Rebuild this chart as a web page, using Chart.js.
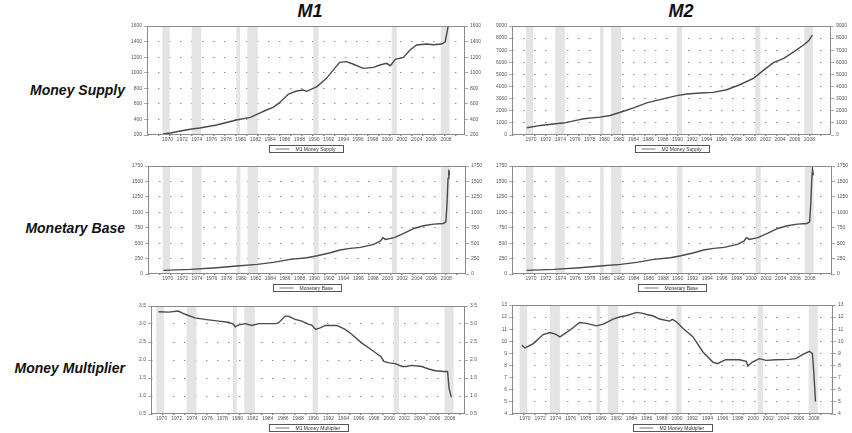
<!DOCTYPE html>
<html>
<head>
<meta charset="utf-8">
<script src="https://cdn.jsdelivr.net/npm/chart.js@4.4.1/dist/chart.umd.min.js"></script>
<style>
  html, body { margin: 0; padding: 0; background: #fff; overflow: hidden; }
  body { width: 852px; height: 433px; position: relative; }
  canvas { position: absolute; }
  .col { position: absolute; top: 1px; transform: translateX(-50%);
         font: italic bold 18px "Liberation Sans Narrow", "Liberation Sans", sans-serif; color: #111; }
  .row { position: absolute; right: 727px; transform: translateY(-50%); white-space: nowrap;
         font: italic bold 14px "Liberation Sans", Arial, sans-serif; color: #111; }
</style>
</head>
<body>
<div class="col" style="left:310px">M1</div>
<div class="col" style="left:681px">M2</div>
<div class="row" style="top:90px">Money Supply</div>
<div class="row" style="top:228px">Monetary Base</div>
<div class="row" style="top:368px">Money Multiplier</div>

<canvas id="m1Supply"></canvas>
<canvas id="m2Supply"></canvas>
<canvas id="m1Base"></canvas>
<canvas id="m2Base"></canvas>
<canvas id="m1Mult"></canvas>
<canvas id="m2Mult"></canvas>

<script>
// x axis labels (every second year) and shaded recessions
const xTickLabels = ["1970", "1972", "1974", "1976", "1978", "1980", "1982", "1984", "1986", "1988",
    "1990", "1992", "1994", "1996", "1998", "2000", "2002", "2004", "2006", "2008"];
const recessions = [[1969.9, 1970.9], [1973.9, 1975.2], [1980.0, 1980.5], [1981.5, 1982.9],
    [1990.5, 1991.2], [2001.2, 2001.9], [2007.9, 2009.1]];

// M1 money supply (billions)
const m1SupplyYears = [1970.0, 1971.0, 1972.0, 1973.7, 1975.0, 1977.3, 1980.0, 1981.9, 1982.8, 1984.1,
    1985.0, 1985.9, 1987.1, 1988.2, 1989.1, 1989.6, 1991.0, 1992.3, 1993.4, 1994.1, 1995.0, 1995.9,
    1997.3, 1998.7, 1999.6, 2000.5, 2001.0, 2001.7, 2002.8, 2003.7, 2004.6, 2006.0, 2006.9, 2008.0,
    2008.5, 2008.9];
const m1SupplyValues = [213, 225, 245, 273, 290, 328, 393, 427, 465, 521, 555, 615, 726, 765, 778, 761,
    821, 928, 1056, 1133, 1142, 1112, 1056, 1069, 1099, 1120, 1090, 1172, 1197, 1291, 1356, 1368, 1360,
    1368, 1398, 1595];
const m1SupplyTicks = [200, 400, 600, 800, 1000, 1200, 1400, 1600];

// M2 money supply (billions)
const m2SupplyYears = [1970.0, 1971.9, 1973.9, 1975.0, 1976.9, 1977.8, 1980.0, 1981.4, 1982.8, 1984.6,
    1986.4, 1988.2, 1990.5, 1991.9, 1993.7, 1995.5, 1997.3, 1999.1, 2001.0, 2002.4, 2003.7, 2005.1,
    2006.5, 2007.8, 2008.5, 2009.0];
const m2SupplyValues = [600, 790, 930, 985, 1230, 1340, 1475, 1610, 1880, 2240, 2650, 2920, 3250, 3385,
    3465, 3520, 3740, 4150, 4700, 5380, 5980, 6330, 6880, 7430, 7780, 8250];
const m2SupplyTicks = [0, 1000, 2000, 3000, 4000, 5000, 6000, 7000, 8000, 9000];

// monetary base (billions), same series in both columns
const baseYears = [1970.0, 1973.7, 1977.3, 1980.0, 1982.8, 1985.0, 1987.3, 1989.6, 1991.0, 1992.8,
    1994.1, 1995.5, 1996.9, 1998.7, 1999.6, 1999.95, 2000.3, 2001.5, 2002.8, 2004.2, 2005.5, 2006.9,
    2008.2, 2008.55, 2008.7, 2008.85, 2008.95, 2009.05];
const baseValues = [59, 75, 102, 129, 156, 188, 237, 264, 296, 345, 388, 415, 431, 479, 533, 587, 560,
    590, 657, 738, 781, 808, 819, 845, 1115, 1550, 1690, 1600];
const baseTicks = [0, 250, 500, 750, 1000, 1250, 1500, 1750];

// M1 money multiplier
const m1MultYears = [1970.2, 1971.5, 1972.8, 1973.7, 1975.0, 1976.3, 1978.1, 1979.4, 1980.1, 1980.3,
    1980.7, 1981.6, 1982.5, 1983.4, 1984.7, 1985.6, 1986.0, 1986.9, 1987.3, 1988.2, 1989.1, 1990.0,
    1990.4, 1990.9, 1991.5, 1992.2, 1993.7, 1994.8, 1995.7, 1997.0, 1997.9, 1998.8, 1999.5, 1999.9,
    2000.6, 2001.4, 2002.3, 2002.8, 2003.6, 2004.9, 2005.8, 2006.7, 2007.8, 2008.3, 2008.5, 2008.8];
const m1MultValues = [3.34, 3.33, 3.36, 3.27, 3.17, 3.13, 3.08, 3.05, 2.99, 2.92, 2.97, 3.01, 2.96, 3.01,
    3.01, 3.01, 3.03, 3.22, 3.22, 3.13, 3.08, 2.99, 2.97, 2.85, 2.89, 2.96, 2.96, 2.85, 2.71, 2.47, 2.34,
    2.20, 2.10, 1.96, 1.92, 1.90, 1.82, 1.82, 1.85, 1.82, 1.75, 1.70, 1.68, 1.68, 1.22, 0.96];
const m1MultTicks = [0.5, 1.0, 1.5, 2.0, 2.5, 3.0, 3.5];

// M2 money multiplier
const m2MultYears = [1970.2, 1970.6, 1971.7, 1973.0, 1973.9, 1974.6, 1975.2, 1976.5, 1977.8, 1978.7,
    1980.0, 1980.9, 1982.2, 1983.1, 1983.9, 1985.3, 1986.1, 1986.6, 1987.4, 1988.3, 1989.6, 1990.0,
    1990.5, 1991.4, 1992.7, 1994.0, 1995.3, 1995.9, 1997.0, 1998.8, 1999.7, 1999.9, 2000.5, 2001.4,
    2002.3, 2003.6, 2005.3, 2006.2, 2007.1, 2008.0, 2008.4, 2008.6, 2008.8];
const m2MultValues = [9.68, 9.45, 9.81, 10.56, 10.73, 10.6, 10.37, 10.92, 11.56, 11.48, 11.28, 11.42,
    11.84, 12.03, 12.11, 12.39, 12.31, 12.22, 12.11, 11.84, 11.67, 11.81, 11.62, 11.06, 10.37, 9.12, 8.29,
    8.15, 8.48, 8.48, 8.35, 7.96, 8.29, 8.57, 8.43, 8.48, 8.51, 8.57, 8.90, 9.18, 8.98, 7.18, 5.02];
const m2MultTicks = [4, 5, 6, 7, 8, 9, 10, 11, 12, 13];

Chart.defaults.font.family = "'Liberation Sans', Arial, sans-serif";
Chart.defaults.animation = false;

const AXIS_W = 27;   // width of each y axis column
const PAD_TOP = 6;
const BELOW = 20;    // room for year labels + legend box

// panel = plot area in page pixels
const panels = [
    { id: "m1Supply", left: 147, top: 26, w: 318, h: 109, xMin: 1967.8, xMax: 2011.2,
      years: m1SupplyYears, values: m1SupplyValues, ticks: m1SupplyTicks, legend: "M1 Money Supply", dec: 0 },
    { id: "m2Supply", left: 512, top: 26, w: 319, h: 109, xMin: 1968.0, xMax: 2011.55,
      years: m2SupplyYears, values: m2SupplyValues, ticks: m2SupplyTicks, legend: "M2 Money Supply", dec: 0 },
    { id: "m1Base", left: 148, top: 166, w: 318, h: 108, xMin: 1967.9, xMax: 2011.3,
      years: baseYears, values: baseValues, ticks: baseTicks, legend: "Monetary Base", dec: 0 },
    { id: "m2Base", left: 512, top: 166, w: 320, h: 108, xMin: 1968.0, xMax: 2011.6,
      years: baseYears, values: baseValues, ticks: baseTicks, legend: "Monetary Base", dec: 0 },
    { id: "m1Mult", left: 151, top: 306, w: 314, h: 108, xMin: 1969.2, xMax: 2010.6,
      years: m1MultYears, values: m1MultValues, ticks: m1MultTicks, legend: "M1 Money Multiplier", dec: 1 },
    { id: "m2Mult", left: 512, top: 305, w: 321, h: 109, xMin: 1968.9, xMax: 2011.1,
      years: m2MultYears, values: m2MultValues, ticks: m2MultTicks, legend: "M2 Money Multiplier", dec: 0 },
];

// grey recession bands behind the line
const bandsPlugin = {
    id: "bands",
    beforeDatasetsDraw(chart) {
        const { ctx, chartArea, scales } = chart;
        ctx.save();
        ctx.fillStyle = "#e4e4e4";
        recessions.forEach(([a, b]) => {
            const x1 = Math.max(scales.x.getPixelForValue(a), chartArea.left);
            const x2 = Math.min(scales.x.getPixelForValue(b), chartArea.right);
            if (x2 > x1) ctx.fillRect(x1, chartArea.top, x2 - x1, chartArea.bottom - chartArea.top);
        });
        ctx.restore();
    },
};

function makeLegendPlugin(text) {
    return {
        id: "boxLegend",
        afterDraw(chart) {
            const { ctx, chartArea } = chart;
            ctx.save();
            // frame around the plot
            ctx.strokeStyle = "#8a8a8a";
            ctx.lineWidth = 1;
            ctx.strokeRect(Math.round(chartArea.left) + 0.5, Math.round(chartArea.top) + 0.5,
                Math.round(chartArea.right - chartArea.left) - 1, Math.round(chartArea.bottom - chartArea.top) - 1);
            // legend box under the axis
            ctx.font = "5px 'Liberation Sans', Arial, sans-serif";
            const tw = ctx.measureText(text).width;
            const w = Math.round(6 + 14 + 6 + tw + 8);
            const x0 = Math.round((chartArea.left + chartArea.right) / 2 - w / 2) + 0.5;
            const y0 = Math.round(chartArea.bottom + 10) + 0.5;
            ctx.strokeStyle = "#555";
            ctx.strokeRect(x0, y0, w, 7);
            ctx.beginPath();
            ctx.moveTo(x0 + 6, y0 + 3.5);
            ctx.lineTo(x0 + 20, y0 + 3.5);
            ctx.strokeStyle = "#777";
            ctx.stroke();
            ctx.fillStyle = "#333";
            ctx.textBaseline = "middle";
            ctx.fillText(text, x0 + 26, y0 + 4);
            ctx.restore();
        },
    };
}

panels.forEach((p) => {
    const canvas = document.getElementById(p.id);
    canvas.width = p.w + 2 * AXIS_W;
    canvas.height = p.h + PAD_TOP + BELOW;
    canvas.style.left = (p.left - AXIS_W) + "px";
    canvas.style.top = (p.top - PAD_TOP) + "px";

    const yMin = p.ticks[0];
    const yMax = p.ticks[p.ticks.length - 1];
    const fmt = (v) => v.toFixed(p.dec);
    const yTickOpts = { font: { size: 5 }, color: "#555", padding: 2, callback: fmt };

    new Chart(canvas.getContext("2d"), {
        type: "line",
        data: {
            datasets: [{
                data: p.years.map((yr, i) => ({ x: yr, y: p.values[i] })),
                borderColor: "#4a4a4a",
                borderWidth: 1.4,
                pointRadius: 0,
                tension: 0,
            }],
        },
        options: {
            responsive: false,
            layout: { padding: { top: PAD_TOP, left: 0, right: 0, bottom: 0 } },
            plugins: { legend: { display: false }, tooltip: { enabled: false } },
            scales: {
                x: {
                    type: "linear",
                    min: p.xMin,
                    max: p.xMax,
                    grid: { display: false, drawTicks: false },
                    border: { display: false },
                    afterBuildTicks: (s) => { s.ticks = xTickLabels.map((l) => ({ value: Number(l) + 0.6 })); },
                    afterFit: (s) => { s.height = BELOW; },
                    ticks: {
                        autoSkip: false, maxRotation: 0, font: { size: 5 }, color: "#555", padding: 2,
                        callback: (v, i) => xTickLabels[i],
                    },
                },
                y: {
                    min: yMin,
                    max: yMax,
                    afterBuildTicks: (s) => { s.ticks = p.ticks.map((v) => ({ value: v })); },
                    afterFit: (s) => { s.width = AXIS_W; },
                    border: { display: false, dash: [1.5, 9.5] },
                    grid: { color: "#8c8c8c", tickLength: 3, tickColor: "#aaa" },
                    ticks: yTickOpts,
                },
                y2: {
                    position: "right",
                    min: yMin,
                    max: yMax,
                    afterBuildTicks: (s) => { s.ticks = p.ticks.map((v) => ({ value: v })); },
                    afterFit: (s) => { s.width = AXIS_W; },
                    border: { display: false },
                    grid: { drawOnChartArea: false, tickLength: 3, color: "#aaa" },
                    ticks: yTickOpts,
                },
            },
        },
        plugins: [bandsPlugin, makeLegendPlugin(p.legend)],
    });
});
</script>
</body>
</html>
